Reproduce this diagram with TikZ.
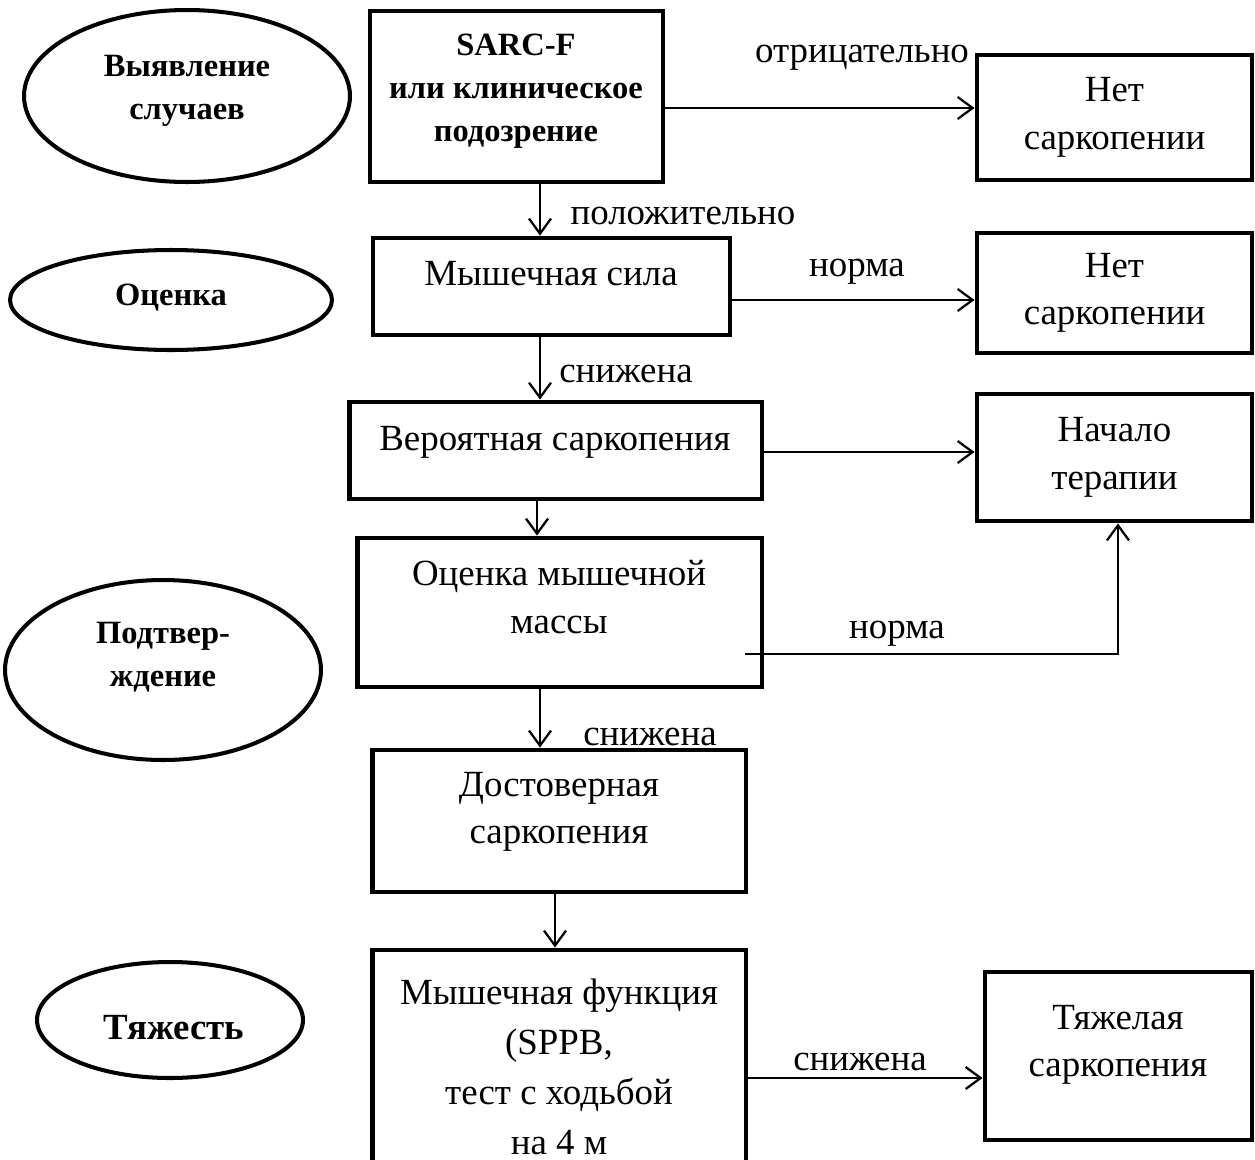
\documentclass[tikz,border=0pt]{standalone}
\usepackage{fontspec}
\setmainfont{Liberation Serif}
\usetikzlibrary{arrows.meta,positioning,shapes.geometric}

\tikzset{
  box/.style={draw, line width=2.8pt, inner sep=0pt},
  oval/.style={draw, ellipse, line width=2.3pt, inner sep=0pt},
  txt/.style={align=center, inner sep=0pt, font=\fontsize{21}{27}\selectfont},
  boldtxt/.style={align=center, inner sep=0pt, font=\fontsize{18.5}{24.5}\selectfont\bfseries},
  arr/.style={line width=1.3pt, -{Straight Barb[length=3mm,width=4.4mm]}},
}

\begin{document}
\begin{tikzpicture}[x=0.02cm, y=-0.02cm]
  \useasboundingbox (0,0) rectangle (1255,1160);
  %этапы
  \node[oval, minimum width=6.52cm, minimum height=3.44cm] (vyyav) at (187,96) {};
  \node[boldtxt] (vyyavt) at (187,91) {Выявление\\случаев};
  \node[oval, minimum width=6.44cm, minimum height=2cm] (ocen) at (171,300) {};
  \node[boldtxt] (ocent) at (171,298) {Оценка};
  \node[oval, minimum width=6.32cm, minimum height=3.6cm] (podt) at (163,670) {};
  \node[boldtxt] (podtt) at (163,657) {Подтвер-\\ждение};
  \node[oval, minimum width=5.32cm, minimum height=2.32cm] (tyazh) at (170,1020) {};
  \node[boldtxt, font=\fontsize{21}{27}\selectfont\bfseries] (tyazht) at (174,1028) {Тяжесть};
  %левая колонка
  \node[box, minimum width=5.86cm, minimum height=3.42cm] (sarc) at (516.5,96.5) {};
  \node[boldtxt] (sarct) at (516,91) {SARC-F\\или клиническое\\подозрение};
  \node[box, minimum width=7.14cm, minimum height=1.94cm] (sila) at (551.5,286.5) {};
  \node[txt] (silat) at (551,274) {Мышечная сила};
  \node[box, minimum width=8.26cm, minimum height=1.94cm] (veroyat) at (555.5,450.5) {};
  \node[txt] (veroyatt) at (555,442) {Вероятная саркопения};
  \node[box, minimum width=8.1cm, minimum height=2.98cm] (massa) at (559.5,612.5) {};
  \node[txt] (massat) at (559,597) {Оценка мышечной\\массы};
  \node[box, minimum width=7.48cm, minimum height=2.84cm] (dostov) at (559,821) {};
  \node[txt] (dostovt) at (559,812) {Достоверная\\саркопения};
  \node[box, minimum width=7.48cm, minimum height=4.5cm] (funk) at (559,1062.5) {};
  \node[txt, font=\fontsize{21}{28.5}\selectfont] (funkt) at (559,1067) {Мышечная функция\\(SPPB,\\тест с ходьбой\\на 4 м};
  %правая колонка
  \node[box, minimum width=5.5cm, minimum height=2.5cm, txt] (net1) at (1114.5,117.5) {Нет\\саркопении};
  \node[box, minimum width=5.5cm, minimum height=2.4cm, txt] (net2) at (1114.5,293) {Нет\\саркопении};
  \node[box, minimum width=5.5cm, minimum height=2.54cm, txt] (start) at (1114.5,457.5) {Начало\\терапии};
  \node[box, minimum width=5.34cm, minimum height=3.36cm] (tyazhsar) at (1118.5,1056) {};
  \node[txt] (tyazhsart) at (1118,1045) {Тяжелая\\саркопения};
  %стрелки
  \coordinate (c1) at (540,0);
  \coordinate (c2) at (537,0);
  \coordinate (c3) at (555,0);
  \coordinate (r1) at (0,108);
  \coordinate (r2) at (0,300);
  \coordinate (r3) at (0,452);
  \coordinate (r4) at (0,1078);
  \coordinate (nstart) at (745,654);
  \coordinate (nbend) at (1118,654);
  \draw[arr] (c1 |- sarc.south) -- (c1 |- sila.north);
  \draw[arr] (c1 |- sila.south) -- (c1 |- veroyat.north);
  \draw[arr] (c2 |- veroyat.south) -- (c2 |- massa.north);
  \draw[arr] (c1 |- massa.south) -- (c1 |- dostov.north);
  \draw[arr] (c3 |- dostov.south) -- (c3 |- funk.north);
  \draw[arr] (sarc.east |- r1) -- (net1.west |- r1);
  \draw[arr] (sila.east |- r2) -- (net2.west |- r2);
  \draw[arr] (veroyat.east |- r3) -- (start.west |- r3);
  \draw[arr] (funk.east |- r4) -- (tyazhsar.west |- r4);
  \draw[arr] (nstart) -- (nbend) -- (nbend |- start.south);
  %подписи
  \node[txt] (otr) at (862,58) {отрицательно};
  \node[txt] (pol) at (683,216) {положительно};
  \node[txt] (norma1) at (857,272) {норма};
  \node[txt] (sniz1) at (626,374) {снижена};
  \node[txt] (norma2) at (897,634) {норма};
  \node[txt] (sniz2) at (650,737) {снижена};
  \node[txt] (sniz3) at (860,1062) {снижена};
\end{tikzpicture}
\end{document}
